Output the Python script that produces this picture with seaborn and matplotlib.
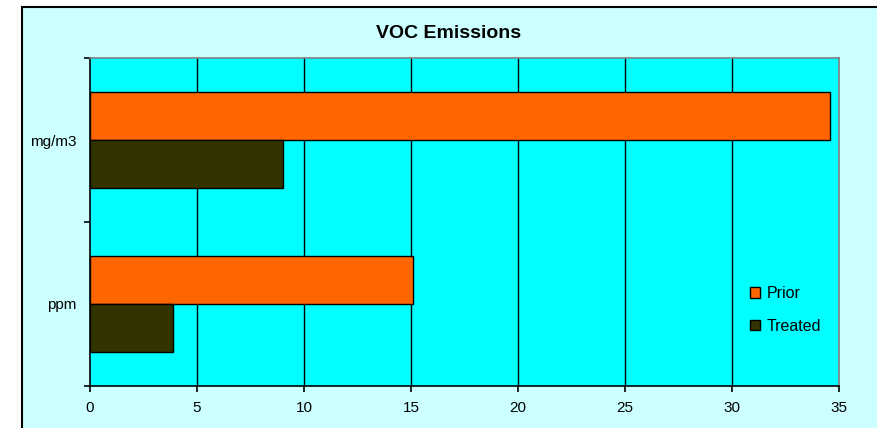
import matplotlib
matplotlib.use("Agg")
import matplotlib.pyplot as plt
from matplotlib.patches import Rectangle
import seaborn as sns
import pandas as pd

# Emission measurements before and after treatment
units = ["mg/m3", "ppm"]
prior = [34.6, 15.1]
treated = [9.0, 3.9]
series_names = ["Prior", "Treated"]
x_ticks = [0, 5, 10, 15, 20, 25, 30, 35]

df = pd.DataFrame({
    "unit": units * 2,
    "value": prior + treated,
    "series": [series_names[0]] * len(units) + [series_names[1]] * len(units),
})

sns.set_style("white")
plt.rcParams["font.family"] = ["Liberation Sans", "DejaVu Sans"]
plt.rcParams["text.color"] = "black"
plt.rcParams["xtick.color"] = "black"
plt.rcParams["ytick.color"] = "black"
plt.rcParams["axes.labelcolor"] = "black"

W, H = 877, 428
fig = plt.figure(figsize=(W / 100, H / 100), dpi=100, facecolor="white")

# chart frame with light cyan fill, drawn beneath the axes
frame = Rectangle((22 / W, -0.05), 1.0, 1 - 7 / H + 0.05, transform=fig.transFigure,
                  facecolor="#CCFFFF", edgecolor="black", linewidth=1.5, zorder=-5)
fig.patches.append(frame)

ax = fig.add_axes([90 / W, 1 - 386 / H, (839 - 90) / W, (386 - 58) / H])
ax.set_zorder(2)
ax.set_facecolor("#00FFFF")

palette = {"Prior": "#FF6600", "Treated": "#333300"}
sns.barplot(data=df, y="unit", x="value", hue="series", order=units,
            hue_order=series_names, palette=palette, orient="h",
            width=0.58, edgecolor="black", linewidth=1.0, saturation=1,
            ax=ax, zorder=3)

ax.set_xlim(0, 35)
ax.set_ylim(1.5, -0.5)
ax.set_xticks(x_ticks)
ax.set_xticklabels([str(t) for t in x_ticks])
ax.set_yticks([0, 1])
ax.set_yticklabels(units)
ax.set_yticks([-0.5, 0.5, 1.5], minor=True)
ax.tick_params(axis="y", which="major", left=True, length=0, pad=10, labelsize=11)
ax.tick_params(axis="y", which="minor", left=True, length=4, width=1.2,
               direction="out", color="black")
ax.tick_params(axis="x", which="major", bottom=True, length=4, width=1.2,
               direction="out", color="black", pad=7, labelsize=11)
ax.set_xlabel("")
ax.set_ylabel("")

for v in x_ticks[1:-1]:
    ax.axvline(v, color="black", linewidth=1.0, zorder=1)

for side in ["left", "bottom"]:
    ax.spines[side].set_visible(True)
    ax.spines[side].set_color("black")
    ax.spines[side].set_linewidth(1.2)
for side in ["top", "right"]:
    ax.spines[side].set_visible(True)
    ax.spines[side].set_color("#808080")
    ax.spines[side].set_linewidth(1.2)

ax.legend(title=None, frameon=False, loc="center left",
          bbox_to_anchor=(0.862, 0.232), fontsize=11.5,
          handlelength=0.6, handleheight=0.6, handletextpad=0.45,
          labelspacing=1.1)

fig.text(449 / W, 1 - 33 / H, "VOC Emissions", ha="center", va="center",
         fontsize=14, fontweight="bold", color="black")

fig.savefig("out.png", dpi=100, facecolor="white")
